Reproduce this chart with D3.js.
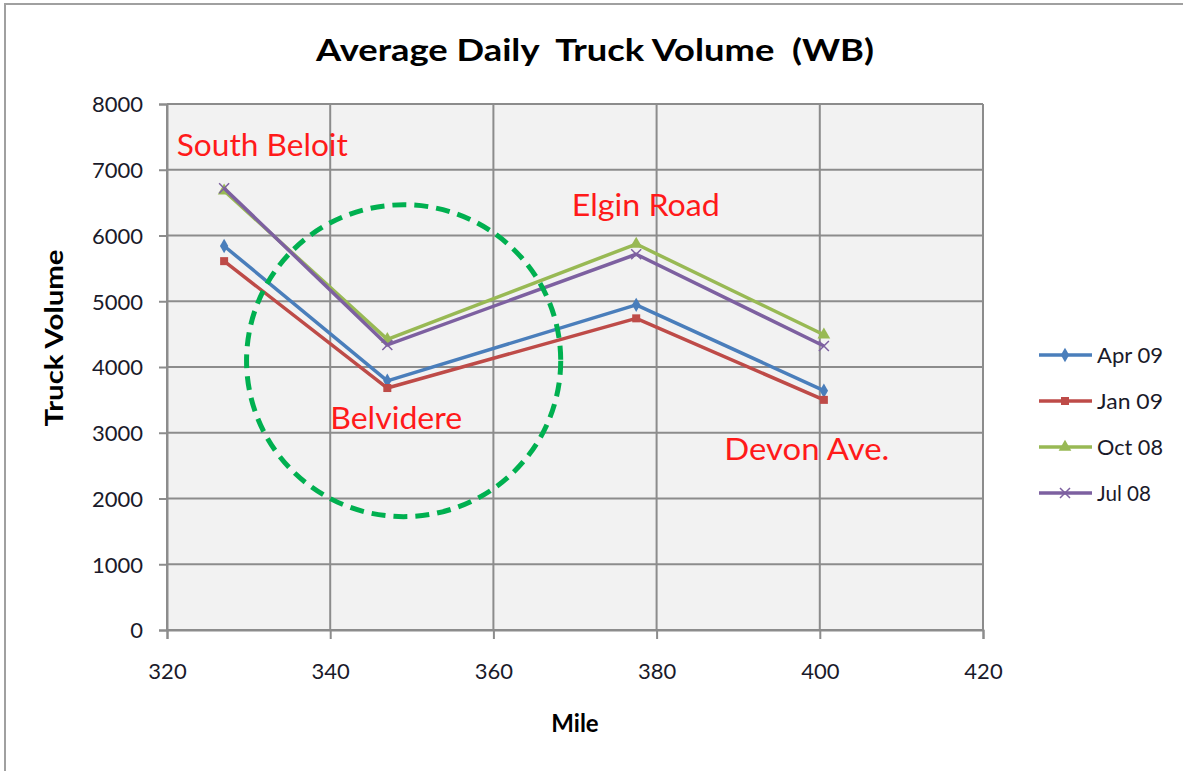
<!DOCTYPE html>
<html>
<head>
<meta charset="utf-8">
<script src="https://cdn.jsdelivr.net/npm/d3@7"></script>
<style>
  body { margin: 0; background: #fff; }
  text { font-family: Lato, "Open Sans", sans-serif; }
</style>
</head>
<body>
<div class="chart"></div>
<script>
// data
var miles = [327, 347, 377.5, 400.5];
var apr09 = [5840, 3790, 4945, 3640];
var jan09 = [5610, 3680, 4740, 3500];
var oct08 = [6680, 4420, 5870, 4490];
var jul08 = [6720, 4335, 5715, 4320];
var seriesNames = ["Apr 09", "Jan 09", "Oct 08", "Jul 08"];
var seriesValues = [apr09, jan09, oct08, jul08];
var seriesColors = ["#4a7ebb", "#be4b48", "#98b954", "#7d60a0"];
var seriesSymbols = ["diamond", "square", "triangle", "x"];
var xTicks = [320, 340, 360, 380, 400, 420];
var yTicks = [0, 1000, 2000, 3000, 4000, 5000, 6000, 7000, 8000];

// site labels (mile, volume at baseline, text width)
var places = ["South Beloit", "Elgin Road", "Belvidere", "Devon Ave."];
var placeMile = [321.2, 369.6, 340, 388.3];
var placeVol = [7210, 6300, 3055, 2590];
var placeWidth = [171, 148, 132, 165];

// dashed ring around Belvidere
var ringMile = 349, ringVol = 4096, ringMiles = 19.25, ringVols = 2372;

var W = 1183, H = 771;
var margin = { top: 104, left: 167 },
    width = 983 - margin.left,
    height = 630 - margin.top;

var x = d3.scaleLinear().domain([320, 420]).range([0, width]);
var y = d3.scaleLinear().domain([0, 8000]).range([height, 0]);

var svg = d3.select(".chart").append("svg")
    .attr("width", W)
    .attr("height", H);

// outer frame (only top and left show)
svg.append("path")
    .attr("d", "M5,771V4H1183")
    .attr("fill", "none")
    .attr("stroke", "#a0a0a0")
    .attr("stroke-width", 2);

svg.append("text")
    .attr("x", 595).attr("y", 61)
    .attr("text-anchor", "middle")
    .attr("font-size", 31).attr("font-weight", "bold")
    .style("white-space", "pre")
    .attr("textLength", 558).attr("lengthAdjust", "spacingAndGlyphs")
    .text("Average Daily  Truck Volume  (WB)");

var g = svg.append("g")
    .attr("transform", "translate(" + margin.left + "," + margin.top + ")");

g.append("rect")
    .attr("width", width).attr("height", height)
    .attr("fill", "#f2f2f2");

// grid
g.selectAll(".hgrid").data(yTicks).enter().append("line")
    .attr("x1", 0).attr("x2", width)
    .attr("y1", function (d) { return y(d); })
    .attr("y2", function (d) { return y(d); })
    .attr("stroke", "#8c8c8c").attr("stroke-width", 2);
g.selectAll(".vgrid").data(xTicks).enter().append("line")
    .attr("y1", 0).attr("y2", height)
    .attr("x1", function (d) { return x(d); })
    .attr("x2", function (d) { return x(d); })
    .attr("stroke", "#8c8c8c").attr("stroke-width", 2);

// axes
var yAxis = g.append("g")
    .call(d3.axisLeft(y).tickValues(yTicks).tickSize(8).tickPadding(16).tickFormat(d3.format("d")));
var xAxis = g.append("g")
    .attr("transform", "translate(0," + height + ")")
    .call(d3.axisBottom(x).tickValues(xTicks).tickSize(9).tickPadding(24).tickFormat(d3.format("d")));
[yAxis, xAxis].forEach(function (a) {
    a.select(".domain").attr("stroke", "#8c8c8c").attr("stroke-width", 2);
    a.selectAll(".tick line").attr("stroke", "#8c8c8c").attr("stroke-width", 2);
    a.selectAll(".tick text").attr("fill", "#1a1a2a")
        .style("font-family", "Lato, 'Open Sans', sans-serif").style("font-size", "22px");
});
yAxis.selectAll(".tick text").attr("dy", "0.36em");

svg.append("text")
    .attr("transform", "translate(63,338) rotate(-90)")
    .attr("text-anchor", "middle")
    .attr("font-size", 24).attr("font-weight", "bold")
    .attr("textLength", 177).attr("lengthAdjust", "spacingAndGlyphs")
    .text("Truck Volume");
svg.append("text")
    .attr("x", 575).attr("y", 732)
    .attr("text-anchor", "middle")
    .attr("font-size", 24).attr("font-weight", "bold")
    .text("Mile");

function marker(sel, kind, color) {
    if (kind === "x") {
        sel.append("path")
            .attr("d", "M-5,-5L5,5M-5,5L5,-5")
            .attr("stroke", color).attr("stroke-width", 1.5).attr("fill", "none");
    } else {
        var t = { diamond: d3.symbolDiamond, square: d3.symbolSquare, triangle: d3.symbolTriangle }[kind];
        var s = { diamond: 60, square: 64, triangle: 70 }[kind];
        sel.append("path")
            .attr("d", d3.symbol().type(t).size(s)())
            .attr("fill", color);
    }
}

var line = d3.line()
    .x(function (d, i) { return x(miles[i]); })
    .y(function (d) { return y(d); });

seriesValues.forEach(function (vals, k) {
    var s = g.append("g");
    s.append("path")
        .attr("d", line(vals))
        .attr("fill", "none")
        .attr("stroke", seriesColors[k])
        .attr("stroke-width", 3.5)
        .attr("stroke-linejoin", "round");
    vals.forEach(function (v, i) {
        var m = s.append("g")
            .attr("transform", "translate(" + x(miles[i]) + "," + y(v) + ")");
        marker(m, seriesSymbols[k], seriesColors[k]);
    });
});

// ring
g.append("ellipse")
    .attr("cx", x(ringMile)).attr("cy", y(ringVol))
    .attr("rx", x(320 + ringMiles) - x(320))
    .attr("ry", y(0) - y(ringVols))
    .attr("fill", "none")
    .attr("stroke", "#00b050")
    .attr("stroke-width", 5)
    .attr("stroke-dasharray", "14,8");

// place labels
g.selectAll(".place").data(places).enter().append("text")
    .attr("x", function (d, i) { return x(placeMile[i]); })
    .attr("y", function (d, i) { return y(placeVol[i]); })
    .attr("font-size", 31)
    .attr("fill", "#ff1a1a")
    .attr("textLength", function (d, i) { return placeWidth[i]; })
    .attr("lengthAdjust", "spacingAndGlyphs")
    .text(function (d) { return d; });

// legend
var legend = svg.append("g");
seriesNames.forEach(function (name, k) {
    var row = legend.append("g")
        .attr("transform", "translate(1039," + (355 + k * 46) + ")");
    row.append("line")
        .attr("x1", 0).attr("x2", 53)
        .attr("stroke", seriesColors[k]).attr("stroke-width", 3.5);
    var m = row.append("g").attr("transform", "translate(26,0)");
    marker(m, seriesSymbols[k], seriesColors[k]);
    row.append("text")
        .attr("x", 58).attr("y", 8)
        .attr("font-size", 21)
        .attr("fill", "#1a1a2a")
        .attr("textLength", k === 3 ? 54 : 66)
        .attr("lengthAdjust", "spacingAndGlyphs")
        .text(name);
});
</script>
</body>
</html>
